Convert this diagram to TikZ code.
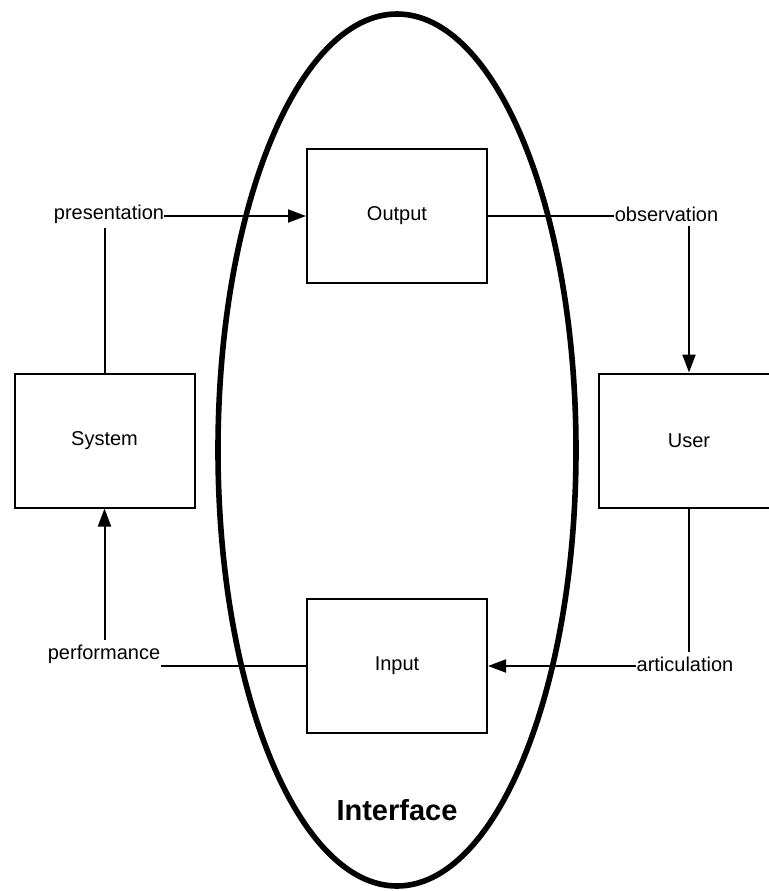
\documentclass[tikz,border=0pt]{standalone}
\usepackage{fontspec}
\setmainfont{Liberation Sans}
\usetikzlibrary{arrows.meta}
\begin{document}
\begin{tikzpicture}[x=0.5pt,y=-0.5pt,
  box/.style={draw,line width=1pt,fill=white,minimum width=90pt,minimum height=67pt,inner sep=0pt,font=\fontsize{10}{12}\selectfont},
  lbl/.style={inner xsep=0pt,inner ysep=2pt,font=\fontsize{10}{12}\selectfont},
  link/.style={line width=1pt},
  flow/.style={line width=1pt,-{Triangle[length=9pt,width=6.5pt]}}]
\clip (0,0) rectangle (769,891);
\fill[white] (0,0) rectangle (769,891);

% the interface boundary
\draw[line width=2.8pt] (397,450) ellipse [x radius=89.5pt, y radius=218pt];
\node[font=\fontsize{14.5}{17}\selectfont\bfseries] (iface) at (397,810) {Interface};

% boxes
\node[box] (out) at (397,216) {Output};
\node[box] (inp) at (397,666) {Input};
\node[box] (sys) at (104.5,440.5) {System};
\node[box] (usr) at (689,440.5) {User};

% connector labels
\node[lbl] (pres) at (109,214) {presentation};
\node[lbl] (obs)  at (666.5,214) {observation};
\node[lbl] (perf) at (104,654) {performance};
\node[lbl] (art)  at (685,664) {articulation};

% system -> output -> user
\draw[link] (sys.north) -- (sys.north |- pres.south);
\draw[flow] (pres.east |- out.west) -- (out.west);
\draw[link] (out.east) -- (obs.west |- out.east);
\draw[flow] (usr.north |- obs.south) -- (usr.north);

% user -> input -> system
\draw[link] (usr.south) -- (usr.south |- art.north);
\draw[flow] (art.west |- inp.east) -- (inp.east);
\draw[link] (inp.west) -- (inp.west -| perf.east);
\draw[flow] (sys.south |- perf.north) -- (sys.south);
\end{tikzpicture}
\end{document}
